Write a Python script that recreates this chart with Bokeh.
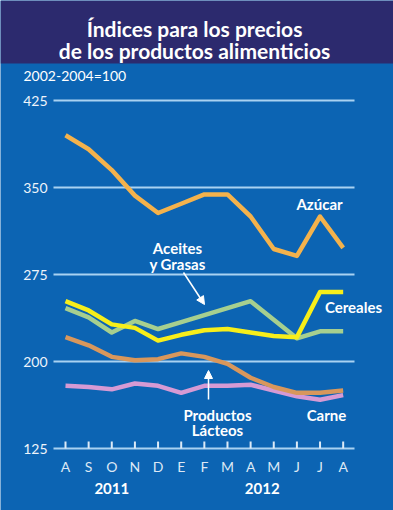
from bokeh.plotting import figure
from bokeh.models import Range1d, Label, Arrow, NormalHead, BoxAnnotation
from bokeh.embed import file_html
from bokeh.resources import INLINE
from bokeh.core.properties import value

# ---------------- data ----------------
months = ["A", "S", "O", "N", "D", "E", "F", "M", "A", "M", "J", "J", "A"]
month_idx = list(range(len(months)))
year_ticks = [2, 8.5]
year_labels = ["2011", "2012"]
y_ticks = [125, 200, 275, 350, 425]

azucar = [395, 383, 365, 343, 328, 336, 344, 344, 325, 297, 291, 325, 298]
cereales = [252, 244, 232, 229, 218, 223, 227, 228, 225, 222, 221, 260, 260]
aceites = [246, 238, 225, 235, 228, 234, 240, 246, 252, 236, 220, 226, 226]
lacteos = [221, 214, 204, 201, 202, 207, 204, 198, 186, 178, 173, 173, 175]
carne = [179, 178, 176, 181, 179, 173, 179, 179, 180, 175, 170, 167, 171]

title_lines = ["Índices para los precios", "de los productos alimenticios"]
base_note = "2002-2004=100"

# ---------------- style ----------------
BLUE = "#0c64b3"
NAVY = "#2c2a6e"
GRID = "#a9d2f2"
TICK = "#dceaf7"
FONT = "Lato"
C_AZ = "#f4b24c"
C_CE = "#f7ee1a"
C_AC = "#a6cf8f"
C_LA = "#d8975c"
C_CA = "#d69ad4"

W, H = 393, 510
PX_PER_MONTH = 23.14
PX_PER_UNIT = 348 / 300
X0_PX, Y425_PX = 65, 100       # pixel of first month / of the 425 line


def px_x(px):
    return (px - X0_PX) / PX_PER_MONTH


def px_y(py):
    return 425 + (Y425_PX - py) / PX_PER_UNIT


X_LO, X_HI = px_x(53), px_x(354)   # extent of grid lines

p = figure(frame_width=W, frame_height=H, min_border=0,
           x_range=Range1d(px_x(0), px_x(W)), y_range=Range1d(px_y(H), px_y(0)),
           output_backend="svg", toolbar_location=None, title=None,
           background_fill_color=BLUE, border_fill_color=BLUE, outline_line_color=None,
           x_axis_location=None, y_axis_location=None)
p.grid.visible = False

# title band
p.add_layout(BoxAnnotation(bottom=px_y(63), fill_color=NAVY, fill_alpha=1,
                           line_color=None, level="underlay"))
for line_txt, by in zip(title_lines, [28, 50]):
    p.add_layout(Label(x=px_x(194), y=px_y(by), text=line_txt, text_align="center",
                       text_baseline="alphabetic", text_color="white", text_font=FONT,
                       text_font_size="21px", text_font_style="bold"))

p.add_layout(Label(x=px_x(23), y=px_y(75), text=base_note, text_align="left",
                   text_baseline="middle", text_color="white", text_font=FONT,
                   text_font_size="14px"))

# horizontal grid lines (the 125 line is the base axis) and value labels
p.segment(x0=[X_LO] * len(y_ticks), x1=[X_HI] * len(y_ticks), y0=y_ticks, y1=y_ticks,
          line_color=GRID, line_width=2)
p.text(x=[px_x(47)] * len(y_ticks), y=y_ticks, text=[str(v) for v in y_ticks],
       text_align="right", text_baseline="middle", text_color="#eef4fb",
       text_font=value(FONT), text_font_size="14px")

# month ticks and labels, years
base = y_ticks[0]
p.segment(x0=month_idx, x1=month_idx, y0=[base] * len(month_idx),
          y1=[base + 7 / PX_PER_UNIT] * len(month_idx), line_color=TICK, line_width=2)
p.text(x=month_idx, y=[px_y(466)] * len(month_idx), text=months,
       text_align="center", text_baseline="middle", text_color="#dce8f5",
       text_font=value(FONT), text_font_size="14px")
p.text(x=year_ticks, y=[px_y(488)] * len(year_ticks), text=year_labels,
       text_align="center", text_baseline="middle", text_color="white",
       text_font=value(FONT), text_font_size="15px", text_font_style="bold")

# series
for ys, col in [(aceites, C_AC), (cereales, C_CE), (carne, C_CA), (lacteos, C_LA), (azucar, C_AZ)]:
    p.line(month_idx, ys, line_color=col, line_width=4.5, line_join="round")

# series labels
labels = [
    ("Aceites", 177, 247),
    ("y Grasas", 177, 263),
    ("Azúcar", 319, 203),
    ("Cereales", 353, 306),
    ("Carne", 326, 414),
    ("Productos", 217, 414),
    ("Lácteos", 217, 429),
]
for txt, lx, ly in labels:
    p.add_layout(Label(x=px_x(lx), y=px_y(ly), text=txt, text_align="center",
                       text_baseline="middle", text_color="white", text_font=FONT,
                       text_font_size="15px", text_font_style="bold"))

p.add_layout(Arrow(end=NormalHead(size=8, fill_color="white", line_color="white"),
                   x_start=px_x(183), y_start=px_y(272), x_end=px_x(204), y_end=px_y(304),
                   line_color="white", line_width=1.5))
p.add_layout(Arrow(end=NormalHead(size=8, fill_color="white", line_color="white"),
                   x_start=px_x(208), y_start=px_y(399), x_end=px_x(208), y_end=px_y(370),
                   line_color="white", line_width=1.5))

open("out.html", "w").write(file_html(p, INLINE))
